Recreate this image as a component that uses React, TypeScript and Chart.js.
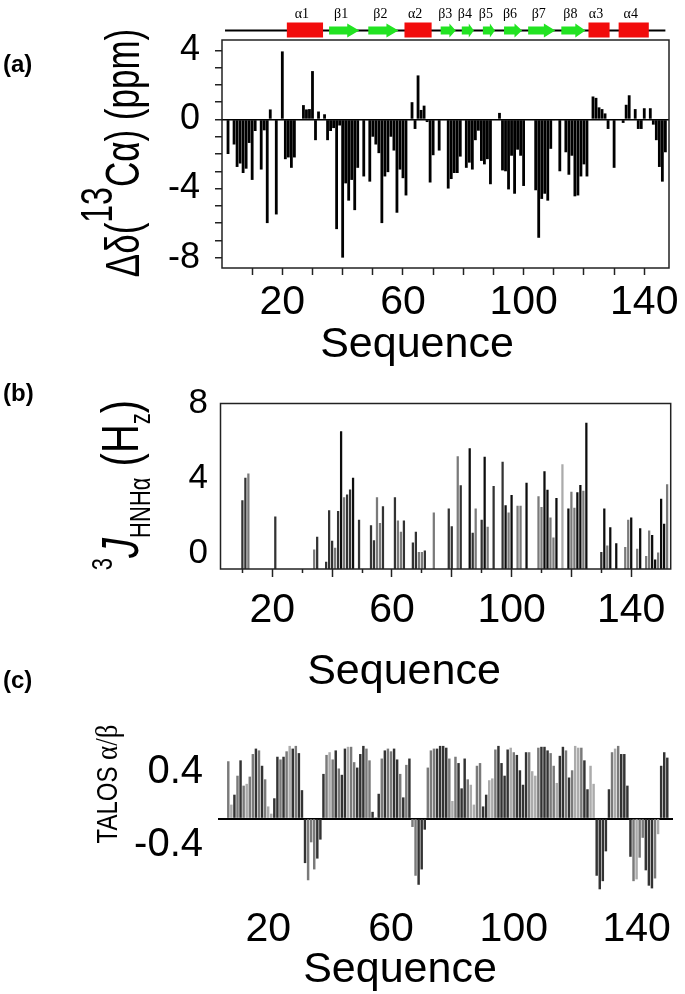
import React, { useEffect, useRef } from 'react';
import { Chart, registerables } from 'chart.js';

Chart.register(...registerables);

const SANS = "'Liberation Sans', Arial, Helvetica, sans-serif";
const SERIF = "'Liberation Serif', 'Times New Roman', serif";

// ---------------- Panel (a): secondary 13Ca chemical shifts ----------------
const firstResidueA = 2;
const deltaCA = [
  -2.0, 0, -1.45, -2.75, -2.55, -3.1, -2.85, -1.36, -3.5, -0.67,
  0, -2.9, -0.63, -6.0, 0.58, 0, -5.5, 0, 3.94, -2.3,
  -2.2, -2.8, -2.2, 0, 0, 0.83, 0.58, 0.6, 2.8, -1.2,
  0.46, 0, 0.3, -1.2, -0.67, -0.5, -6.35, -0.35, -8.0, -3.7,
  -4.7, -3.5, -5.25, -2.8, 0, -3.3, -0.05, -3.6, -1.0, -1.45,
  -1.95, -6.0, -3.3, -3.05, -1.0, -1.8, -5.4, -2.9, -3.4, -4.4,
  0, 1.0, -0.55, 2.55, 0.55, 0.8, -0.15, -3.65, -2.07, 0,
  -1.8, 0, 0, -4.0, -3.45, -3.1, -3.1, -2.15, 0, -2.8,
  -2.5, -2.9, -1.2, -0.65, -2.4, -2.6, -2.3, -3.75, 0, 0,
  0.38, -2.95, -3.0, -4.05, -2.1, -4.3, -1.75, -2.1, -3.85, 0,
  0, 0, -4.1, -6.85, -4.6, -4.3, -4.7, -1.7, -0.05, 0,
  -3.0, 0, -1.9, -3.2, -2.1, -4.45, -4.4, -3.3, -2.6, -3.3,
  0, 1.33, 1.25, 0.7, 0.6, 0.35, -0.55, 0, -2.8, 0,
  0, -0.2, 0.85, 1.4, 0, 0.6, -0.55, -0.55, 0.65, 0,
  0.65, -0.3, -1.2, -2.75, -3.6, -1.9,
];
const yTicksA = [-8, -7, -6, -5, -4, -3, -2, -1, 0, 1, 2, 3, 4];
const yLabelsA = [-8, -4, 0, 4];

// secondary structure elements (residue ranges)
const ssNames = ['α1', 'β1', 'β2', 'α2', 'β3', 'β4', 'β5', 'β6', 'β7', 'β8', 'α3', 'α4'];
const ssStart = [22, 36, 49, 61, 73, 80, 87, 94, 102, 113, 122, 132];
const ssEnd = [33, 45, 58, 69, 77, 83, 90, 99, 110, 120, 128, 141];
const ssLineFrom = 1;
const ssLineTo = 147;

// shared x ticks
const xTickValues = [10, 20, 30, 40, 50, 60, 70, 80, 90, 100, 110, 120, 130, 140];
const xLabelValues = [20, 60, 100, 140];

// ---------------- Panel (b): 3J HNHa coupling constants ----------------
const jResidues = [
  10, 11, 12, 21, 34, 35, 38, 39, 40, 41,
  42, 43, 44, 45, 46, 47, 49, 53, 54, 55,
  56, 57, 61, 62, 63, 64, 67, 68, 69, 70,
  71, 74, 79, 80, 82, 83, 86, 87, 88, 90,
  91, 92, 94, 97, 98, 99, 100, 102, 103, 105,
  109, 110, 111, 112, 113, 114, 115, 117, 119, 120,
  121, 122, 123, 124, 125, 130, 131, 132, 133, 135,
  138, 139, 140, 142, 143, 145, 146, 147, 148, 149,
  150, 151, 152,
];
const jValues = [
  2.82, 4.02, 4.25, 1.96, 0.2, 0.88, -0.45, 2.3, 0.67, 0.29,
  2.25, 6.51, 2.99, 3.13, 3.4, 4.02, 1.79, 1.5, 0.7, 2.99,
  1.62, 2.51, 2.99, 1.75, 1.15, 1.75, 0.57, 1.15, 0.07, 0.07,
  0.15, 2.17, 2.39, 1.44, 5.17, 3.63, 5.6, 1.1, 2.39, 1.79,
  5.14, 1.41, 3.59, 4.88, 2.56, 2.18, 3.11, 2.53, 2.53, 3.76,
  3.04, 2.46, 4.37, 3.39, 1.91, 0.84, 2.94, 4.74, 2.39, 3.28,
  2.42, 3.25, 3.64, 3.33, 6.95, 0.07, 2.39, 0.41, 1.39, 0.53,
  0.33, 1.79, 1.91, 0.24, 1.33, -0.14, 1.22, 0.98, -0.33, 0.04,
  2.9, 1.58, 3.68,
];
const jShades = ('ddgdgddddg' + 'dkgddkdddg' + 'gddggdddgg' + 'dgddgdkdgd' + 'kgddkgkggk' +
  'ggkkggklkg' + 'gkkgkdkgkk' + 'ggkgkggkkg' + 'kkg').split('');
const yTicksB = [0, 4, 8];

// ---------------- Panel (c): TALOS alpha/beta ----------------
const firstResidueC = 7;
const talosValues = [
  0.63, 0.15, 0.26, 0.47, 0.64, 0.36, 0.38, 0.46, 0.71, 0.77,
  0.75, 0.58, 0.43, 0.13, 0.05, 0.22, 0.68, 0.65, 0.68, 0.74,
  0.8, 0.77, 0.8, 0.72, 0.31, -0.49, -0.68, -0.26, -0.56, -0.44,
  -0.23, 0.49, 0.7, 0.73, 0.65, 0.75, 0.55, 0.48, 0.77, 0.79,
  0.79, 0.62, 0.56, 0.71, 0.8, 0.77, 0.64, 0.07, 0.01, 0.27,
  0.66, 0.75, 0.77, 0.74, 0.77, 0.65, 0.49, 0.23, 0.59, 0.66,
  -0.09, -0.63, -0.73, -0.56, -0.12, 0.56, 0.75, 0.77, 0.77,
  0.8, 0.8, 0.78, 0.66, 0.19, 0.68, 0.61, 0.33, 0.66, 0.43,
  0.37, 0.15, 0.58, 0.61, 0.13, 0.26, 0.42, 0.44, 0.76, 0.8,
  0.61, 0.47, 0.76, 0.78, 0.73, 0.7, 0.53, 0.37, 0.73, 0.73,
  0.52, 0.47, 0.78, 0.79, 0.79, 0.75, 0.72, 0.58, 0.39, 0.69,
  0.79, 0.75, 0.45, 0.53, 0.8, 0.78, 0.78, 0.64, 0.32, 0.58,
  0.38, -0.63, -0.78, -0.69, -0.36, 0.32, 0.73, 0.77, 0.8, 0.71,
  0.71, 0.36, -0.42, -0.69, -0.67, -0.43, -0.21, -0.57, -0.74, -0.77,
  -0.66, -0.17, 0.58, 0.73, 0.67,
];
const talosShades = ('gldgdglggd' + 'gdgllddgdg' + 'ldgdddgggd' + 'ddglgdgddl' + 'ggdddggdld' +
  'gdggddgdgd' + 'ggdddgggd' + 'dddglgdddg' + 'llggddllgd' + 'dddlgddddg' + 'llgdddggld' +
  'dgdgllgddl' + 'ldddddglgd' + 'dddglggddd' + 'glddd').split('');
const yTicksC = [-0.4, 0, 0.4];
const yLabelsC = [-0.4, 0.4];

const shadeColor: Record<string, string> = { k: '#0d0d0d', d: '#333333', g: '#7a7a7a', l: '#ababab' };

// ---------------- drawing helpers ----------------
type Seg = { text: string; size: number; dy?: number; italic?: boolean; serif?: boolean };
type TextItem = { segs: Seg[]; x: number; y: number; rotate?: boolean; stretch?: number };

function drawText(ctx: CanvasRenderingContext2D, item: TextItem) {
  ctx.save();
  ctx.translate(item.x, item.y);
  if (item.rotate) ctx.rotate(-Math.PI / 2);
  const k = item.stretch || 1;
  ctx.scale(1, k);
  ctx.fillStyle = '#000';
  ctx.textAlign = 'left';
  ctx.textBaseline = 'alphabetic';
  const fontOf = (s: Seg) => `${s.italic ? 'italic ' : ''}${s.size}px ${s.serif ? SERIF : SANS}`;
  let total = 0;
  const widths = item.segs.map((s) => {
    ctx.font = fontOf(s);
    const w = ctx.measureText(s.text).width;
    total += w;
    return w;
  });
  let cx = -total / 2;
  item.segs.forEach((s, i) => {
    ctx.font = fontOf(s);
    ctx.fillText(s.text, cx, (s.dy || 0) / k);
    cx += widths[i];
  });
  ctx.restore();
}

const textPlugin = (items: TextItem[]) => ({
  id: 'texts',
  afterDraw(chart: any) {
    items.forEach((it) => drawText(chart.ctx, it));
  },
});

const boxPlugin = {
  id: 'box',
  afterDraw(chart: any) {
    const { ctx, chartArea: a } = chart;
    ctx.save();
    ctx.strokeStyle = '#222';
    ctx.lineWidth = 1.5;
    ctx.strokeRect(a.left, a.top, a.right - a.left, a.bottom - a.top);
    ctx.restore();
  },
};

const ssPlugin = {
  id: 'secondary',
  afterDraw(chart: any) {
    const { ctx } = chart;
    const xs = chart.scales.x;
    const yc = 30.5;
    ctx.save();
    ctx.strokeStyle = '#000';
    ctx.lineWidth = 2;
    ctx.beginPath();
    ctx.moveTo(xs.getPixelForValue(ssLineFrom), yc);
    ctx.lineTo(xs.getPixelForValue(ssLineTo), yc);
    ctx.stroke();
    ssNames.forEach((name, i) => {
      const x1 = xs.getPixelForValue(ssStart[i] - 0.5);
      const x2 = xs.getPixelForValue(ssEnd[i] + 0.5);
      if (name[0] === 'α') {
        ctx.fillStyle = '#f20c0c';
        ctx.fillRect(x1, yc - 8, x2 - x1, 15);
      } else {
        const head = Math.min(12, (x2 - x1) * 0.42);
        ctx.fillStyle = '#22e322';
        ctx.beginPath();
        ctx.moveTo(x1, yc - 4);
        ctx.lineTo(x2 - head, yc - 4);
        ctx.lineTo(x2 - head, yc - 7);
        ctx.lineTo(x2, yc);
        ctx.lineTo(x2 - head, yc + 7);
        ctx.lineTo(x2 - head, yc + 4);
        ctx.lineTo(x1, yc + 4);
        ctx.closePath();
        ctx.fill();
      }
      ctx.fillStyle = '#000';
      ctx.font = `14px ${SERIF}`;
      ctx.textAlign = 'center';
      ctx.textBaseline = 'alphabetic';
      ctx.fillText(name, (x1 + x2) / 2 - 3, 18);
    });
    ctx.restore();
  },
};

const noPlugins = { legend: { display: false }, tooltip: { enabled: false } };

function buildA(canvas: HTMLCanvasElement) {
  const texts: TextItem[] = [
    { segs: [{ text: 'Sequence', size: 43 }], x: 417, y: 357 },
    {
      rotate: true, x: 139, y: 153, stretch: 1.38,
      segs: [
        { text: 'Δδ(', size: 35 },
        { text: '13', size: 32, dy: -27 },
        { text: 'Cα) (ppm)', size: 35 },
      ],
    },
  ];
  return new Chart(canvas, {
    type: 'bar',
    data: {
      datasets: [{
        data: deltaCA.map((v, i) => ({ x: firstResidueA + i, y: v })),
        backgroundColor: '#000',
        borderWidth: 0,
        barPercentage: 0.93,
        categoryPercentage: 1,
      }],
    },
    options: {
      responsive: false, maintainAspectRatio: false, animation: false, devicePixelRatio: 1,
      layout: { padding: { left: 0, right: 16, top: 40, bottom: 0 } },
      plugins: noPlugins,
      scales: {
        x: {
          type: 'linear', min: 0, max: 148.2, offset: false,
          afterBuildTicks: (s: any) => { s.ticks = xTickValues.map((v) => ({ value: v })); },
          afterFit: (s: any) => { s.height = 102; },
          grid: { drawOnChartArea: false, drawTicks: true, tickLength: 7, tickColor: '#222', tickWidth: 1.5, offset: false },
          border: { display: false },
          ticks: {
            autoSkip: false, maxRotation: 0, padding: 3, color: '#000', font: { family: SANS, size: 41 },
            callback: (v: any) => (xLabelValues.includes(Number(v)) ? String(v) : ''),
          },
        },
        y: {
          type: 'linear', min: -8.6, max: 4.6,
          afterBuildTicks: (s: any) => { s.ticks = yTicksA.map((v) => ({ value: v })); },
          afterFit: (s: any) => { s.width = 222; },
          grid: {
            drawTicks: true, tickLength: 7, tickColor: '#222', tickWidth: 1.5, lineWidth: 1.5,
            color: (c: any) => (c.tick && c.tick.value === 0 ? '#000' : 'rgba(0,0,0,0)'),
          },
          border: { display: false },
          ticks: {
            autoSkip: false, padding: 15, color: '#000', font: { family: SANS, size: 36 },
            callback: (v: any) => (yLabelsA.includes(Number(v)) ? String(v) : ''),
          },
        },
      },
    },
    plugins: [boxPlugin, ssPlugin, textPlugin(texts)],
  } as any);
}

function buildB(canvas: HTMLCanvasElement) {
  const texts: TextItem[] = [
    { segs: [{ text: 'Sequence', size: 43 }], x: 404, y: 314 },
    {
      rotate: true, x: 138, y: 115, stretch: 1.3,
      segs: [
        { text: '3', size: 22, dy: -26 },
        { text: 'J', size: 40, italic: true },
        { text: 'HNHα', size: 22, dy: 12 },
        { text: ' (H', size: 40 },
        { text: 'z', size: 22, dy: 12 },
        { text: ')', size: 40 },
      ],
    },
  ];
  return new Chart(canvas, {
    type: 'bar',
    data: {
      datasets: [{
        data: jValues.map((v, i) => ({ x: jResidues[i], y: v })),
        backgroundColor: jShades.map((s) => shadeColor[s]),
        borderWidth: 0,
        barThickness: 1.6,
        base: -0.82,
      }],
    },
    options: {
      responsive: false, maintainAspectRatio: false, animation: false, devicePixelRatio: 1,
      layout: { padding: { left: 0, right: 14.3, top: 28.3, bottom: 0 } },
      plugins: noPlugins,
      scales: {
        x: {
          type: 'linear', min: 2.68, max: 153.2, offset: false,
          afterBuildTicks: (s: any) => { s.ticks = xTickValues.map((v) => ({ value: v })); },
          afterFit: (s: any) => { s.height = 131; },
          grid: {
            drawOnChartArea: false, drawTicks: true, tickLength: 8, tickColor: '#222', tickWidth: 1.5, offset: false,
            tickBorderDash: (c: any) => (c.tick && c.tick.value % 20 === 0 ? [] : [4, 40]),
          },
          border: { display: false },
          ticks: {
            autoSkip: false, maxRotation: 0, padding: 9, color: '#000', font: { family: SANS, size: 41 },
            callback: (v: any) => (xLabelValues.includes(Number(v)) ? String(v) : ''),
          },
        },
        y: {
          type: 'linear', min: -0.82, max: 8,
          afterBuildTicks: (s: any) => { s.ticks = yTicksB.map((v) => ({ value: v })); },
          afterFit: (s: any) => { s.width = 220.5; },
          grid: { display: false, drawTicks: false },
          border: { display: false },
          ticks: { autoSkip: false, padding: 12.5, color: '#000', font: { family: SANS, size: 35 } },
        },
      },
    },
    plugins: [boxPlugin, textPlugin(texts)],
  } as any);
}

function buildC(canvas: HTMLCanvasElement) {
  const texts: TextItem[] = [
    { segs: [{ text: 'Sequence', size: 43 }], x: 400, y: 282 },
    {
      rotate: true, x: 117, y: 84, stretch: 1.2,
      segs: [
        { text: 'TALOS ', size: 24 },
        { text: 'α/β', size: 27, serif: true },
      ],
    },
  ];
  return new Chart(canvas, {
    type: 'bar',
    data: {
      datasets: [{
        data: talosValues.map((v, i) => ({ x: firstResidueC + i, y: v })),
        backgroundColor: talosShades.map((s) => shadeColor[s]),
        borderWidth: 0,
        barThickness: 1.8,
      }],
    },
    options: {
      responsive: false, maintainAspectRatio: false, animation: false, devicePixelRatio: 1,
      layout: { padding: { left: 0, right: 12, top: 22, bottom: 0 } },
      plugins: noPlugins,
      scales: {
        x: {
          type: 'linear', min: 3.65, max: 151.86, offset: false,
          afterBuildTicks: (s: any) => { s.ticks = xLabelValues.map((v) => ({ value: v })); },
          afterFit: (s: any) => { s.height = 96; },
          grid: { display: false, drawTicks: false, offset: false },
          border: { display: false },
          ticks: {
            autoSkip: false, maxRotation: 0, padding: 7, color: '#000', font: { family: SANS, size: 41 },
          },
        },
        y: {
          type: 'linear', min: -0.88, max: 0.88,
          afterBuildTicks: (s: any) => { s.ticks = yTicksC.map((v) => ({ value: v })); },
          afterFit: (s: any) => { s.width = 218; },
          grid: {
            drawTicks: false, lineWidth: 2,
            color: (c: any) => (c.tick && c.tick.value === 0 ? '#000' : 'rgba(0,0,0,0)'),
          },
          border: { display: false },
          ticks: {
            autoSkip: false, padding: 15, labelOffset: -10, color: '#000', font: { family: SANS, size: 40 },
            callback: (v: any) => (yLabelsC.includes(Number(v)) ? String(v) : ''),
          },
        },
      },
    },
    plugins: [textPlugin(texts)],
  } as any);
}

const panelLabel = (top: number): React.CSSProperties => ({
  position: 'absolute', left: 3, top, font: `bold 24px ${SANS}`, lineHeight: '24px', color: '#000',
});

export default function App() {
  const refA = useRef<HTMLCanvasElement>(null);
  const refB = useRef<HTMLCanvasElement>(null);
  const refC = useRef<HTMLCanvasElement>(null);

  useEffect(() => {
    const charts = [buildA(refA.current!), buildB(refB.current!), buildC(refC.current!)];
    return () => charts.forEach((c) => c.destroy());
  }, []);

  return (
    <div style={{ position: 'absolute', left: 0, top: 0, width: 685, height: 994, background: '#fff', overflow: 'hidden' }}>
      <canvas ref={refA} width={685} height={370} style={{ position: 'absolute', left: 0, top: 0, width: 685, height: 370 }} />
      <canvas ref={refB} width={685} height={330} style={{ position: 'absolute', left: 0, top: 370, width: 685, height: 330 }} />
      <canvas ref={refC} width={685} height={294} style={{ position: 'absolute', left: 0, top: 700, width: 685, height: 294 }} />
      <div style={panelLabel(52)}>(a)</div>
      <div style={panelLabel(381)}>(b)</div>
      <div style={panelLabel(668)}>(c)</div>
    </div>
  );
}
